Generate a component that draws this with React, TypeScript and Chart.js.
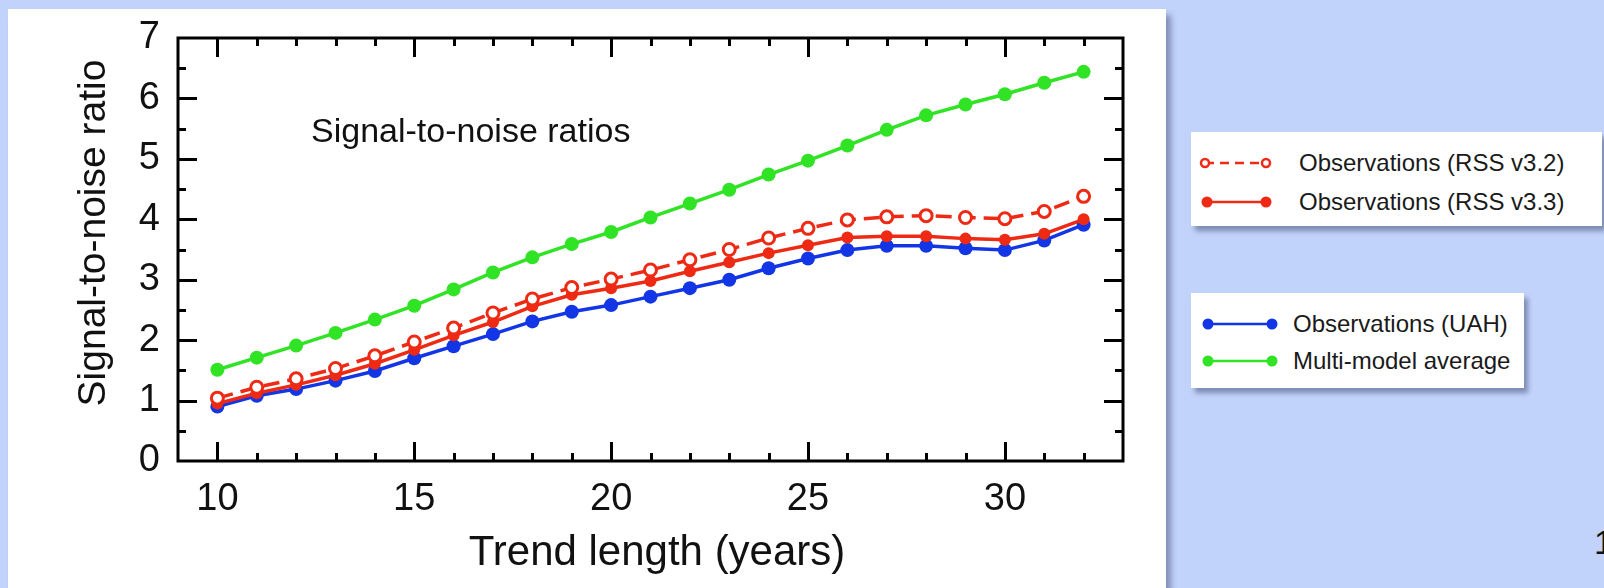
import React, { useEffect, useRef } from "react";
import { Chart, registerables } from "chart.js";

Chart.register(...registerables);

// ---- data ----
const trendYears = [10, 11, 12, 13, 14, 15, 16, 17, 18, 19, 20, 21, 22, 23, 24, 25, 26, 27, 28, 29, 30, 31, 32];
const multiModel = [1.51, 1.71, 1.91, 2.12, 2.34, 2.57, 2.84, 3.12, 3.37, 3.59, 3.79, 4.03, 4.26, 4.49, 4.74, 4.97, 5.22, 5.48, 5.72, 5.9, 6.07, 6.26, 6.44];
const rssV32 = [1.04, 1.22, 1.36, 1.53, 1.74, 1.97, 2.2, 2.45, 2.68, 2.87, 3.01, 3.16, 3.33, 3.5, 3.69, 3.85, 3.99, 4.04, 4.06, 4.03, 4.01, 4.13, 4.38];
const rssV33 = [0.95, 1.12, 1.26, 1.42, 1.61, 1.84, 2.08, 2.3, 2.56, 2.75, 2.86, 2.98, 3.14, 3.29, 3.44, 3.57, 3.7, 3.72, 3.72, 3.68, 3.66, 3.76, 4.0];
const uah = [0.9, 1.08, 1.19, 1.33, 1.49, 1.7, 1.9, 2.1, 2.31, 2.47, 2.58, 2.72, 2.86, 3.0, 3.19, 3.35, 3.49, 3.56, 3.56, 3.52, 3.49, 3.65, 3.91];

const xTickLabels = [10, 15, 20, 25, 30];
const yTickLabels = [0, 1, 2, 3, 4, 5, 6, 7];
const xMinorTicks = [10, 11, 12, 13, 14, 15, 16, 17, 18, 19, 20, 21, 22, 23, 24, 25, 26, 27, 28, 29, 30, 31, 32];
const yMinorTicks = [0.5, 1, 1.5, 2, 2.5, 3, 3.5, 4, 4.5, 5, 5.5, 6, 6.5];

const xTitle = "Trend length (years)";
const yTitle = "Signal-to-noise ratio";
const innerLabel = "Signal-to-noise ratios";
const legendA = ["Observations (RSS v3.2)", "Observations (RSS v3.3)"];
const legendB = ["Observations (UAH)", "Multi-model average"];

const RED = "#ee2a14";
const BLUE = "#1236e6";
const GREEN = "#30e324";
const FONT = "'Liberation Sans', Arial, Helvetica, sans-serif";

const framePlugin = {
  id: "frameTicks",
  afterDatasetsDraw(chart: any) {
    const { ctx, chartArea: a, scales } = chart;
    const x = scales.x;
    const y = scales.y;
    ctx.save();
    ctx.strokeStyle = "#000";
    ctx.lineWidth = 3;
    ctx.lineCap = "butt";
    ctx.beginPath();
    for (const v of xMinorTicks) {
      const px = Math.round(x.getPixelForValue(v)) + 0.5;
      const len = v % 5 === 0 ? 19 : 8;
      ctx.moveTo(px, a.bottom);
      ctx.lineTo(px, a.bottom - len);
      ctx.moveTo(px, a.top);
      ctx.lineTo(px, a.top + len);
    }
    for (const v of yMinorTicks) {
      const py = Math.round(y.getPixelForValue(v)) + 0.5;
      const len = Number.isInteger(v) ? 19 : 8;
      ctx.moveTo(a.left, py);
      ctx.lineTo(a.left + len, py);
      ctx.moveTo(a.right, py);
      ctx.lineTo(a.right - len, py);
    }
    ctx.stroke();
    ctx.strokeRect(a.left, a.top, a.right - a.left, a.bottom - a.top);

    ctx.fillStyle = "#111";
    // inner label
    ctx.font = `34px ${FONT}`;
    ctx.textAlign = "left";
    ctx.textBaseline = "alphabetic";
    ctx.fillText(innerLabel, 303, 133);
    // x title
    ctx.font = `42px ${FONT}`;
    ctx.textAlign = "center";
    ctx.fillText(xTitle, 649, 556);
    // y title
    ctx.translate(97, 224);
    ctx.rotate(-Math.PI / 2);
    ctx.font = `39px ${FONT}`;
    ctx.textAlign = "center";
    ctx.fillText(yTitle, 0, 0);
    ctx.restore();
  },
};

function SnrChart() {
  const ref = useRef<HTMLCanvasElement | null>(null);
  useEffect(() => {
    if (!ref.current) return;
    const pts = (arr: number[]) => arr.map((v, i) => ({ x: trendYears[i], y: v }));
    const chart = new Chart(ref.current, {
      type: "line",
      data: {
        datasets: [
          {
            label: legendA[0],
            data: pts(rssV32),
            borderColor: RED,
            borderWidth: 3.5,
            borderDash: [16, 8],
            pointRadius: 6,
            pointBorderWidth: 3,
            pointBackgroundColor: "#fff",
            pointBorderColor: RED,
            order: 0,
          },
          {
            label: legendA[1],
            data: pts(rssV33),
            borderColor: RED,
            borderWidth: 3.5,
            pointRadius: 6,
            pointBorderWidth: 0,
            pointBackgroundColor: RED,
            pointBorderColor: RED,
            order: 1,
          },
          {
            label: legendB[0],
            data: pts(uah),
            borderColor: BLUE,
            borderWidth: 3.5,
            pointRadius: 7,
            pointBorderWidth: 0,
            pointBackgroundColor: BLUE,
            pointBorderColor: BLUE,
            order: 2,
          },
          {
            label: legendB[1],
            data: pts(multiModel),
            borderColor: GREEN,
            borderWidth: 3.5,
            pointRadius: 7,
            pointBorderWidth: 0,
            pointBackgroundColor: GREEN,
            pointBorderColor: GREEN,
            order: 3,
          },
        ],
      },
      options: {
        animation: false,
        responsive: false,
        maintainAspectRatio: false,
        layout: { padding: { top: 29, right: 43, left: 0, bottom: 0 } },
        plugins: { legend: { display: false }, tooltip: { enabled: false }, title: { display: false } },
        elements: { line: { tension: 0 } },
        scales: {
          x: {
            type: "linear",
            min: 9,
            max: 33,
            grid: { display: false, drawTicks: false },
            border: { display: false },
            afterBuildTicks: (s: any) => {
              s.ticks = xTickLabels.map((v) => ({ value: v }));
            },
            afterFit: (s: any) => {
              s.height = 127;
              s.paddingLeft = 0;
              s.paddingRight = 0;
            },
            ticks: {
              autoSkip: false,
              maxRotation: 0,
              padding: 16,
              color: "#111",
              font: { size: 38, family: FONT },
              callback: (v: any) => String(v),
            },
          },
          y: {
            type: "linear",
            min: 0,
            max: 7,
            grid: { display: false, drawTicks: false },
            border: { display: false },
            afterBuildTicks: (s: any) => {
              s.ticks = yTickLabels.map((v) => ({ value: v }));
            },
            afterFit: (s: any) => {
              s.width = 170;
              s.paddingTop = 0;
              s.paddingBottom = 0;
            },
            ticks: {
              padding: 18,
              color: "#111",
              font: { size: 38, family: FONT },
              callback: (v: any) => String(v),
            },
          },
        },
      },
      plugins: [framePlugin],
    });
    return () => chart.destroy();
  }, []);
  return <canvas ref={ref} width={1158} height={579} style={{ display: "block", width: 1158, height: 579 }} />;
}

function Marker({ x1, x2, y, color, dashed }: { x1: number; x2: number; y: number; color: string; dashed?: boolean }) {
  return (
    <g>
      <line x1={x1} y1={y} x2={x2} y2={y} stroke={color} strokeWidth={2.5} strokeDasharray={dashed ? "9 6" : undefined} />
      {dashed ? (
        <>
          <circle cx={x1} cy={y} r={4} fill="#fff" stroke={color} strokeWidth={2.5} />
          <circle cx={x2} cy={y} r={4} fill="#fff" stroke={color} strokeWidth={2.5} />
        </>
      ) : (
        <>
          <circle cx={x1} cy={y} r={5.5} fill={color} />
          <circle cx={x2} cy={y} r={5.5} fill={color} />
        </>
      )}
    </g>
  );
}

const boxStyle: React.CSSProperties = {
  position: "absolute",
  background: "#fff",
  boxShadow: "4px 5px 5px rgba(40,50,90,0.45)",
};

const legText = (top: number, left: number): React.CSSProperties => ({
  position: "absolute",
  left,
  top: top - 15,
  height: 30,
  lineHeight: "30px",
  fontSize: 24,
  fontFamily: FONT,
  color: "#1a1a1a",
  whiteSpace: "nowrap",
});

export default function App() {
  return (
    <div
      style={{
        position: "absolute",
        left: 0,
        top: 0,
        width: 1604,
        height: 588,
        overflow: "hidden",
        background: "#c2d3fb",
      }}
    >
      <div
        style={{
          position: "absolute",
          left: 8,
          top: 9,
          width: 1158,
          height: 600,
          background: "#fff",
          boxShadow: "5px 6px 6px rgba(50,60,100,0.45)",
        }}
      >
        <SnrChart />
      </div>

      <div style={{ ...boxStyle, left: 1191, top: 132, width: 411, height: 94 }}>
        <svg width={411} height={94} style={{ position: "absolute", left: 0, top: 0 }}>
          <Marker x1={14} x2={75} y={31} color={RED} dashed />
          <Marker x1={16} x2={75} y={70} color={RED} />
        </svg>
        <div style={legText(31, 108)}>{legendA[0]}</div>
        <div style={legText(70, 108)}>{legendA[1]}</div>
      </div>

      <div style={{ ...boxStyle, left: 1191, top: 293, width: 333, height: 95 }}>
        <svg width={333} height={95} style={{ position: "absolute", left: 0, top: 0 }}>
          <Marker x1={17} x2={81} y={31} color={BLUE} />
          <Marker x1={17} x2={81} y={68} color={GREEN} />
        </svg>
        <div style={legText(31, 102)}>{legendB[0]}</div>
        <div style={legText(68, 102)}>{legendB[1]}</div>
      </div>

      <div
        style={{
          position: "absolute",
          left: 1594,
          top: 522,
          fontSize: 34,
          fontFamily: FONT,
          color: "#111",
          lineHeight: "40px",
        }}
      >
        1
      </div>
    </div>
  );
}
